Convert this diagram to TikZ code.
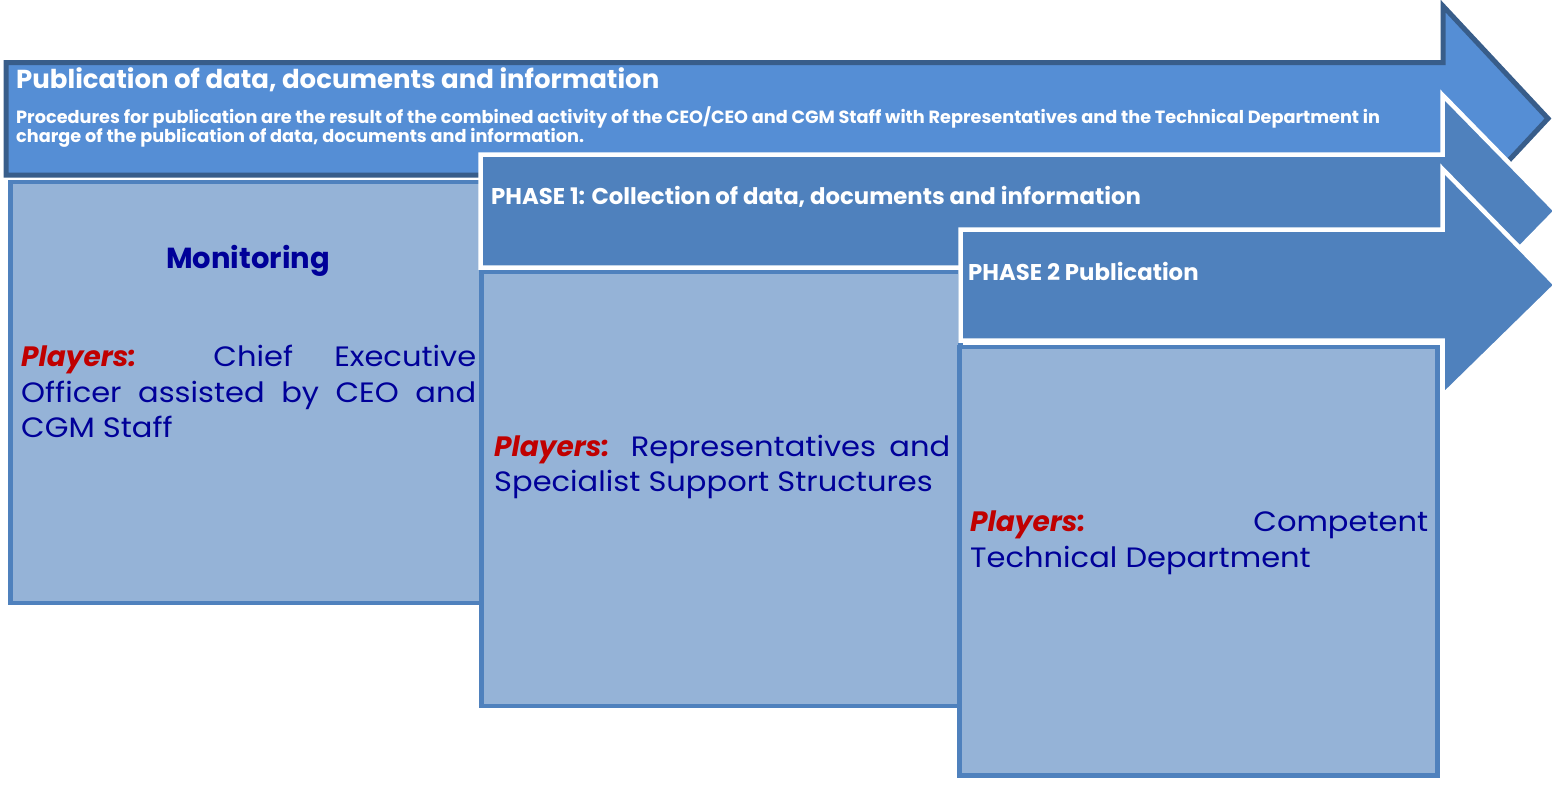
\documentclass[tikz,border=0pt]{standalone}
\usepackage{fontspec}
\setmainfont{Poppins}
\newfontfamily\bodyface[FakeStretch=1.09]{Poppins}
\definecolor{topfill}{HTML}{558ED5}
\definecolor{topline}{HTML}{385D8A}
\definecolor{phasefill}{HTML}{4F81BD}
\definecolor{boxfill}{HTML}{95B3D7}
\definecolor{boxline}{HTML}{4F81BD}
\definecolor{navytext}{HTML}{000099}
\definecolor{redtext}{HTML}{C00000}
\newcommand{\players}{\textcolor{redtext}{\normalfont\bfseries\itshape Players:}}
\tikzset{
  toparrow/.style={fill=topfill, draw=topline, line width=5pt, line join=miter},
  phasearrow/.style={fill=phasefill, draw=white, line width=4.5pt, line join=miter},
  playerbox/.style={fill=boxfill, draw=boxline, line width=4.5pt},
  headtext/.style={text=white, font=\bfseries\fontsize{26}{30}\selectfont, anchor=base west, inner sep=0pt},
  subtext/.style={text=white, font=\bfseries\fontsize{17.7}{20}\selectfont, anchor=base west, inner sep=0pt},
  phasetext/.style={text=white, font=\bfseries\fontsize{22.8}{26}\selectfont, anchor=base west, inner sep=0pt},
  bodytext/.style={text=navytext, font=\bodyface\fontsize{28}{34}\selectfont, anchor=base west, inner sep=0pt},
}
\begin{document}
\begin{tikzpicture}[x=1pt, y=-1pt]
\useasboundingbox (0,0) rectangle (1552,787);

% overall arrow: publication of data
\draw[toparrow] (6,62.5) -- (1443,62.5) -- (1443,6) -- (1548,118.5)
  -- (1443,231) -- (1443,175) -- (6,175) -- cycle;
\node[headtext] (title) at (16,88) {Publication of data, documents and information};
\node[subtext] (sub1) at (16,123) {Procedures for publication are the result of the combined activity of the CEO/CEO and CGM Staff with Representatives and the Technical Department in};
\node[subtext] (sub2) at (16,142) {charge of the publication of data, documents and information.};

% monitoring box
\draw[playerbox] (10.5,182) rectangle (483.5,603);
\node[text=navytext, font=\bfseries\fontsize{29}{34}\selectfont, inner sep=0pt, anchor=base] (mon) at (248,268) {Monitoring};
\node[bodytext] (m1) at (21,366) {\makebox[455pt][s]{\players{} Chief Executive}};
\node[bodytext] (m2) at (21,402) {\makebox[455pt][s]{Officer assisted by CEO and}};
\node[bodytext] (m3) at (21,437) {CGM Staff};

% phase 1 arrow
\draw[phasearrow] (480.5,154.5) -- (1442.5,154.5) -- (1442.5,95) -- (1556,211)
  -- (1442.5,327) -- (1442.5,267.5) -- (480.5,267.5) -- cycle;
\node[phasetext] (ph1) at (491,204) {PHASE 1: Collection of data, documents and information};

% phase 1 box
\draw[playerbox] (481.5,272) rectangle (960.5,706);
\node[bodytext] (r1) at (494,456) {\makebox[456pt][s]{\players{} Representatives and}};
\node[bodytext] (r2) at (494,491) {Specialist Support Structures};

% phase 2 arrow
\draw[phasearrow] (960.5,229.5) -- (1442.5,229.5) -- (1442.5,169) -- (1556,285)
  -- (1442.5,396) -- (1442.5,340.5) -- (960.5,340.5) -- cycle;
\node[phasetext] (ph2) at (968,280) {PHASE 2 Publication};

% phase 2 box
\draw[playerbox] (959.5,347) rectangle (1437.5,775.5);
\node[bodytext] (t1) at (970,531) {\makebox[458pt][s]{\players{} Competent}};
\node[bodytext] (t2) at (970,567) {Technical Department};
\end{tikzpicture}
\end{document}
